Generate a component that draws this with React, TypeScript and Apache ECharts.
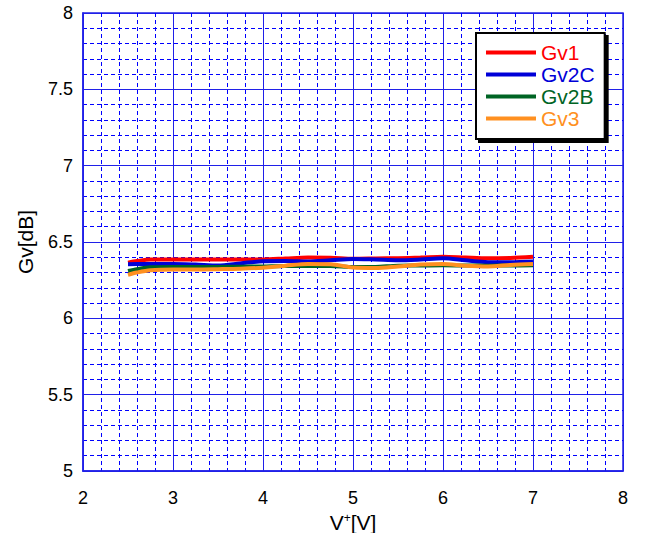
import React, { useEffect, useRef } from "react";
import * as echarts from "echarts";

const voltages = [2.5, 2.6, 2.75, 3.0, 3.25, 3.5, 3.75, 4.0, 4.25, 4.5, 4.75, 5.0, 5.25, 5.5, 5.75, 6.0, 6.25, 6.5, 6.75, 7.0];
const gv1 = [6.365, 6.375, 6.385, 6.386, 6.386, 6.385, 6.386, 6.386, 6.392, 6.398, 6.397, 6.39, 6.392, 6.394, 6.398, 6.404, 6.398, 6.393, 6.396, 6.404];
const gv2c = [6.355, 6.356, 6.356, 6.356, 6.352, 6.346, 6.36, 6.374, 6.375, 6.372, 6.38, 6.389, 6.385, 6.38, 6.385, 6.393, 6.38, 6.368, 6.367, 6.372];
const gv2b = [6.31, 6.322, 6.334, 6.337, 6.337, 6.337, 6.338, 6.34, 6.343, 6.343, 6.343, 6.336, 6.337, 6.345, 6.346, 6.348, 6.346, 6.345, 6.346, 6.348];
const gv3 = [6.285, 6.3, 6.315, 6.32, 6.32, 6.322, 6.325, 6.332, 6.345, 6.356, 6.355, 6.333, 6.33, 6.34, 6.352, 6.356, 6.345, 6.34, 6.35, 6.356];

const seriesNames = ["Gv1", "Gv2C", "Gv2B", "Gv3"];
const seriesColors = ["#ff0000", "#0000d8", "#006424", "#ff9020"];
const seriesValues = [gv1, gv2c, gv2b, gv3];

const FONT = "Liberation Sans, Arial, sans-serif";

export default function App() {
  const ref = useRef<HTMLDivElement>(null);
  useEffect(() => {
    if (!ref.current) return;
    const chart = echarts.init(ref.current, null, { renderer: "svg" });
    const gridBlue = "#2020e8";
    chart.setOption({
      animation: false,
      textStyle: { fontFamily: FONT },
      grid: {
        left: 83,
        right: 22,
        top: 13,
        bottom: 62,
        outerBoundsMode: "none",
        containLabel: false,
        show: true,
        borderColor: gridBlue,
        borderWidth: 1.5,
        backgroundColor: "#ffffff",
      },
      legend: {
        orient: "vertical",
        left: 476,
        top: 33,
        padding: [9, 10, 10, 10],
        itemGap: 1,
        itemWidth: 50,
        itemHeight: 4,
        icon: "rect",
        backgroundColor: "#ffffff",
        borderColor: "#000000",
        borderWidth: 2,
        shadowColor: "#000000",
        shadowOffsetX: 3,
        shadowOffsetY: 3,
        shadowBlur: 0,
        textStyle: { fontSize: 21, fontFamily: FONT, lineHeight: 21 },
        data: seriesNames.map((n, i) => ({
          name: n,
          textStyle: { color: seriesColors[i] },
        })),
      },
      xAxis: {
        type: "value",
        min: 2,
        max: 8,
        interval: 1,
        minorTick: { show: false, splitNumber: 5 },
        axisLine: { show: true, lineStyle: { color: gridBlue, width: 1.5 } },
        axisTick: { show: false },
        axisLabel: { color: "#000", fontSize: 18, margin: 18, fontFamily: FONT },
        splitLine: { show: true, lineStyle: { color: gridBlue, width: 1 } },
        minorSplitLine: { show: true, lineStyle: { color: "#0000ff", width: 1, type: [4, 3] } },
        name: "V{sup|+}[V]",
        nameLocation: "middle",
        nameGap: 39,
        nameTextStyle: {
          color: "#000",
          fontSize: 21,
          fontFamily: FONT,
          rich: {
            sup: { fontSize: 12, fontFamily: FONT, color: "#000", padding: [0, 0, 10, 0] },
          },
        },
      },
      yAxis: {
        type: "value",
        min: 5,
        max: 8,
        interval: 0.5,
        minorTick: { show: false, splitNumber: 5 },
        axisLine: { show: true, lineStyle: { color: gridBlue, width: 1.5 } },
        axisTick: { show: false },
        axisLabel: { color: "#000", fontSize: 18, margin: 10, fontFamily: FONT },
        splitLine: { show: true, lineStyle: { color: gridBlue, width: 1 } },
        minorSplitLine: { show: true, lineStyle: { color: "#0000ff", width: 1, type: [4, 3] } },
        name: "Gv[dB]",
        nameLocation: "middle",
        nameGap: 47,
        nameTextStyle: { color: "#000", fontSize: 21, fontFamily: FONT },
      },
      series: seriesNames.map((n, i) => ({
        name: n,
        type: "line",
        data: voltages.map((v, j) => [v, seriesValues[i][j]]),
        showSymbol: false,
        symbol: "none",
        smooth: 0.3,
        color: seriesColors[i],
        lineStyle: { color: seriesColors[i], width: 4 },
      })),
    });
    return () => chart.dispose();
  }, []);
  return <div ref={ref} style={{ width: 645, height: 533, position: "absolute", left: 0, top: 0 }} />;
}
